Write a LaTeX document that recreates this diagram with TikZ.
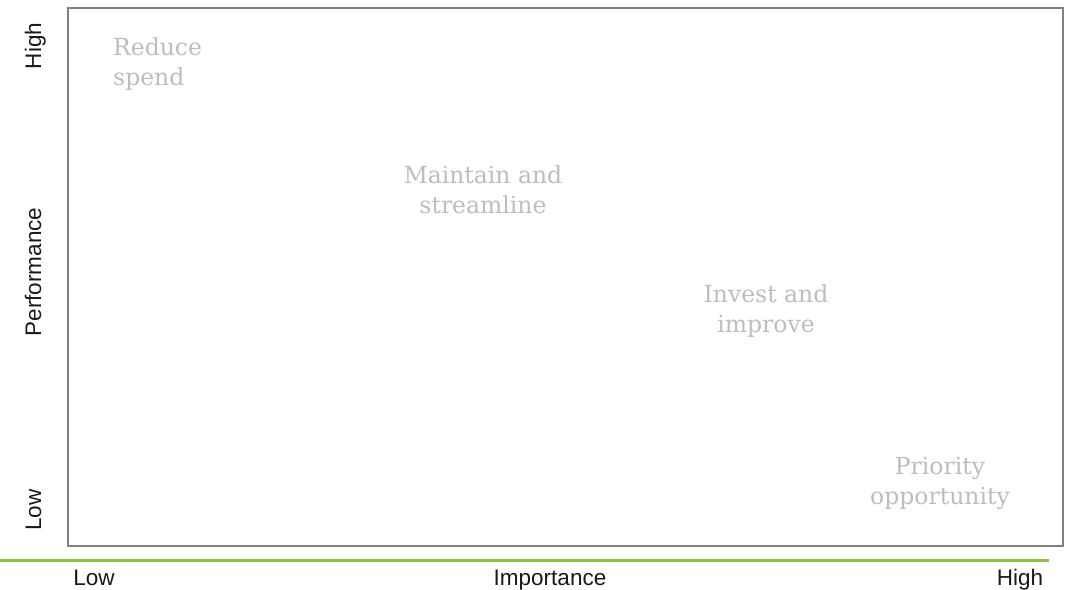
\documentclass[tikz,border=0pt]{standalone}
\usepackage{fontspec}
\setmainfont{Liberation Sans}
\newfontfamily\slabfont{DejaVu Serif}
\usepackage{xcolor}
\usetikzlibrary{positioning}

\definecolor{framegray}{HTML}{808080}
\definecolor{labelgray}{HTML}{BDBDBD}
\definecolor{axisgreen}{HTML}{8CC63F}

\begin{document}
\begin{tikzpicture}[
    x=1pt, y=-1pt,
    quadrant/.style={text=labelgray, align=center, font=\slabfont\fontsize{23.5}{30}\selectfont, inner sep=0pt, anchor=base},
    axislabel/.style={text=black!90, font=\fontsize{22.5}{24}\selectfont, inner sep=0pt, anchor=base},
    sidelabel/.style={axislabel, rotate=90}
]
\useasboundingbox (0,0) rectangle (1068,589);

% matrix frame and green baseline
\draw[framegray, line width=2pt] (68,8) rectangle (1063,546);
\draw[axisgreen, line width=3pt] (0,560.5) -- (1049,560.5);

% quadrant labels (base = last line)
\node[quadrant, anchor=base west, align=left] (reduce) at (113,85) {Reduce\\spend};
\node[quadrant] (maintain) at (483,213) {Maintain and\\streamline};
\node[quadrant] (invest) at (766,332) {Invest and\\improve};
\node[quadrant] (priority) at (940,504) {Priority\\opportunity};

% importance axis
\node[axislabel] (implow) at (94,585) {Low};
\node[axislabel] (importance) at (550,585) {Importance};
\node[axislabel] (imphigh) at (1020,585) {High};

% performance axis
\node[sidelabel] (perfhigh) at (41,46) {High};
\node[sidelabel] (performance) at (41,272) {Performance};
\node[sidelabel] (perflow) at (41,510) {Low};

\end{tikzpicture}
\end{document}
